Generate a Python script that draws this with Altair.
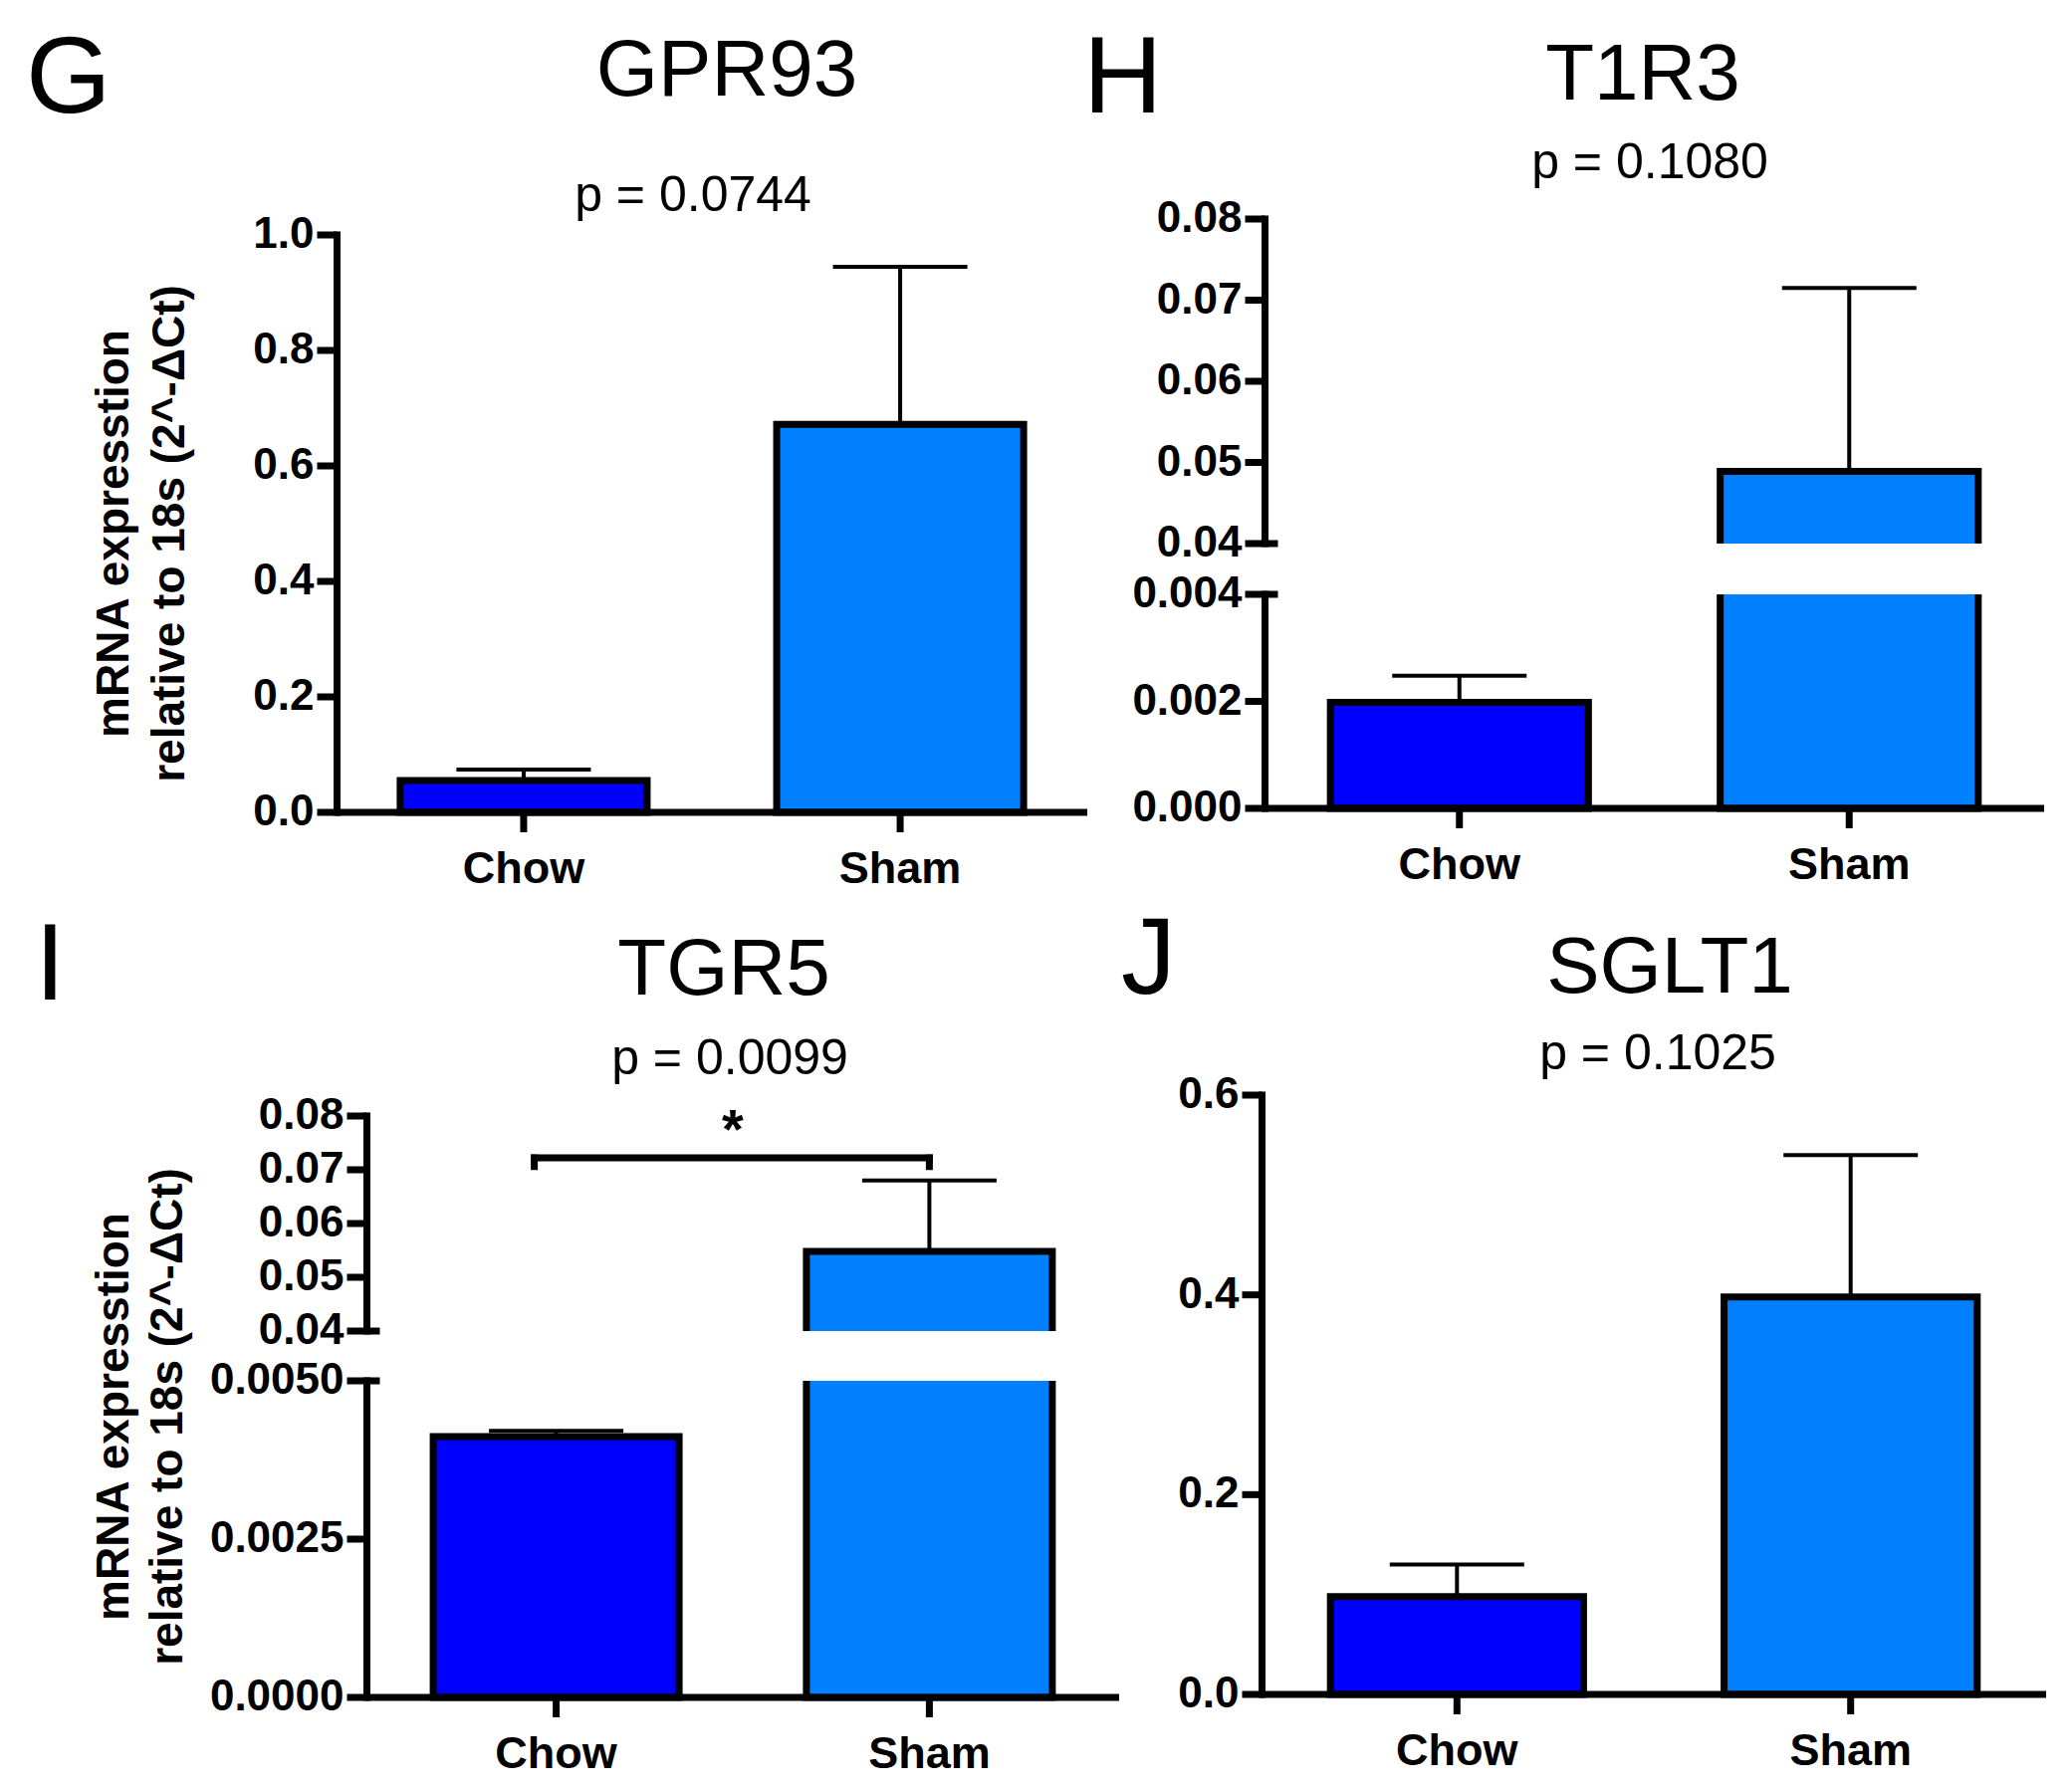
import altair as alt
import pandas as pd

# ---------------- data ----------------
groups = ["Chow", "Sham"]
genes = ["GPR93", "T1R3", "TGR5", "SGLT1"]
panel_letters = ["G", "H", "I", "J"]
p_values = ["p = 0.0744", "p = 0.1080", "p = 0.0099", "p = 0.1025"]

gpr93_mean = [0.055, 0.672]
gpr93_upper = [0.074, 0.945]
t1r3_mean = [0.00198, 0.0489]
t1r3_upper = [0.00248, 0.0715]
tgr5_mean = [0.00412, 0.0548]
tgr5_upper = [0.00421, 0.0680]
sglt1_mean = [0.098, 0.398]
sglt1_upper = [0.130, 0.540]

gpr93_ticks = [0.0, 0.2, 0.4, 0.6, 0.8, 1.0]
t1r3_ticks = [0.0, 0.002, 0.004, 0.04, 0.05, 0.06, 0.07, 0.08]
tgr5_ticks = [0.0, 0.0025, 0.005, 0.04, 0.05, 0.06, 0.07, 0.08]
sglt1_ticks = [0.0, 0.2, 0.4, 0.6]

t1r3_break = [0.004, 0.04]
tgr5_break = [0.005, 0.04]
tgr5_bracket = [0.0706, 0.0722]
significance = "*"

y_title = ["mRNA expresstion", "relative to 18s (2^-ΔCt)"]

# ---------------- style / layout ----------------
bar_colors = ["#0000FF", "#0080FF"]
SANS = "Liberation Sans, Arial, sans-serif"
M = 8
CELL_W, CELL_H = 1032, 891
AXW = 7        # axis line width
TICK = 20      # tick length
BRACKET_SHIFT = -22


def panel(row, col, gene, letter, pval, mean, upper, ticks, brk, ypix, axis_x, right_x,
          pi, po, label_expr, title_xy, letter_xy, p_xy, ytitle_x=None, bracket=None):
    ox = M + col * CELL_W
    oy = M + row * CELL_H

    def lx(v):
        return v - ox

    def ly(v):
        return v - oy

    df = pd.DataFrame({"group": groups, "mean": mean, "upper": upper})
    df["zero"] = ticks[0]
    if brk is None:
        domain = [ticks[0], ticks[-1]]
        seg_df = pd.DataFrame({"lo": [ticks[0]], "hi": [ticks[-1]]})
    else:
        domain = [ticks[0], brk[0], brk[1], ticks[-1]]
        seg_df = pd.DataFrame({"lo": [ticks[0], brk[1]], "hi": [brk[0], ticks[-1]]})
    yscale = alt.Scale(domain=domain, range=[ly(p) for p in ypix], nice=False, zero=False)
    xscale = alt.Scale(domain=groups, range=[lx(axis_x), lx(right_x)],
                       paddingInner=pi, paddingOuter=po)
    axis_y = ypix[0]
    ax = lx(axis_x) + 0.5

    X = alt.X("group:N", axis=None)
    base = alt.Chart(df)
    bars = base.mark_bar(stroke="black", strokeWidth=7).encode(
        x=alt.X("group:N", scale=xscale, axis=None, sort=groups),
        y=alt.Y("mean:Q", scale=yscale, axis=None),
        y2="zero:Q",
        color=alt.Color("group:N", scale=alt.Scale(domain=groups, range=bar_colors), legend=None),
    )
    layers = [bars]
    if brk is not None:
        W = right_x - axis_x
        step = W / (2 - pi + 2 * po)
        bw = step * (1 - pi)
        gap_df = df[df["mean"] > brk[1]].assign(lo=brk[0], hi=brk[1])
        gap = alt.Chart(gap_df).mark_bar(color="white", width=bw + 12).encode(
            x=X, y=alt.Y("lo:Q", axis=None), y2="hi:Q",
        )
        stubs = alt.Chart(pd.DataFrame({"v": brk})).mark_rule(color="black", strokeWidth=AXW).encode(
            x=alt.value(ax), x2=alt.value(ax + 13), y=alt.Y("v:Q", axis=None),
        )
        layers += [gap, stubs]

    # y axis: line segments, ticks, labels
    segs = alt.Chart(seg_df).mark_rule(color="black", strokeWidth=AXW, strokeCap="square").encode(
        x=alt.value(ax), y=alt.Y("lo:Q", axis=None), y2="hi:Q",
    )
    tick_df = pd.DataFrame({"v": ticks})
    yticks = alt.Chart(tick_df).mark_rule(color="black", strokeWidth=AXW).encode(
        x=alt.value(ax - TICK), x2=alt.value(ax), y=alt.Y("v:Q", axis=None),
    )
    ylabels = alt.Chart(tick_df).transform_calculate(lbl=label_expr).mark_text(
        font=SANS, fontSize=44, fontWeight="bold", align="right", baseline="middle",
        color="black",
    ).encode(x=alt.value(ax - TICK - 3), y=alt.Y("v:Q", axis=None), text="lbl:N")
    # x axis: line, ticks, labels
    xline = alt.Chart(pd.DataFrame({"v": [ticks[0]]})).mark_rule(color="black", strokeWidth=AXW).encode(
        x=alt.value(lx(axis_x)), x2=alt.value(lx(right_x)), y=alt.Y("v:Q", axis=None),
    )
    xticks = base.mark_tick(color="black", opacity=1, orient="vertical", size=TICK,
                            thickness=AXW, yOffset=TICK / 2).encode(
        x=X, y=alt.Y("zero:Q", axis=None))
    xlabels = base.mark_text(
        font=SANS, fontSize=45, fontWeight="bold", align="center", baseline="alphabetic",
        color="black",
    ).encode(x=X, y=alt.value(ly(axis_y) + 71), text="group:N")
    layers += [segs, yticks, ylabels, xline, xticks, xlabels]

    err = base.mark_rule(color="black", strokeWidth=4).encode(
        x=X, y=alt.Y("mean:Q", axis=None), y2="upper:Q",
    )
    caps = base.mark_tick(color="black", opacity=1, orient="horizontal", size=135,
                          thickness=4).encode(x=X, y=alt.Y("upper:Q", axis=None))
    layers += [err, caps]
    if bracket is not None:
        top_df = pd.DataFrame({"a": [groups[0]], "b": [groups[1]], "v": [bracket[1]]})
        br_top = alt.Chart(top_df).mark_rule(
            color="black", strokeWidth=7, strokeCap="square", xOffset=BRACKET_SHIFT
        ).encode(x=alt.X("a:N", axis=None), x2="b:N", y=alt.Y("v:Q", axis=None))
        leg_df = pd.DataFrame({"group": groups, "lo": [bracket[0]] * 2, "hi": [bracket[1]] * 2})
        br_l = alt.Chart(leg_df.iloc[[0]]).mark_rule(
            color="black", strokeWidth=7, strokeCap="square", xOffset=BRACKET_SHIFT
        ).encode(x=X, y=alt.Y("lo:Q", axis=None), y2="hi:Q")
        br_r = alt.Chart(leg_df.iloc[[1]]).mark_rule(
            color="black", strokeWidth=7, strokeCap="square"
        ).encode(x=X, y=alt.Y("lo:Q", axis=None), y2="hi:Q")
        star = alt.Chart(pd.DataFrame({"t": [significance]})).mark_text(
            font=SANS, fontSize=56, fontWeight="bold", align="center", baseline="alphabetic",
            color="black",
        ).encode(text="t:N", x=alt.value(lx(736)), y=alt.value(ly(1153)))
        layers += [br_top, br_l, br_r, star]

    def txt(t, xy, size, weight="normal", align="center", angle=0, baseline="alphabetic"):
        return alt.Chart(pd.DataFrame({"t": [t]})).mark_text(
            font=SANS, fontSize=size, fontWeight=weight, align=align, baseline=baseline,
            angle=angle, color="black",
        ).encode(text="t:N", x=alt.value(lx(xy[0])), y=alt.value(ly(xy[1])))

    layers.append(txt(gene, title_xy, 80))
    layers.append(txt(letter, letter_xy, 110, align="left"))
    layers.append(txt(pval, p_xy, 50))
    if ytitle_x is not None:
        mid = (ypix[0] + ypix[-1]) / 2 + 10
        for line, tx in zip(y_title, ytitle_x):
            layers.append(txt(line, (tx, mid), 46, weight="bold", angle=270, baseline="middle"))
    return alt.layer(*layers).properties(width=CELL_W, height=CELL_H)


fmt1 = "format(datum.v, '.1f')"
pG = panel(0, 0, genes[0], panel_letters[0], p_values[0], gpr93_mean, gpr93_upper, gpr93_ticks,
           None, [816, 236], 338, 1092, 0.344, 0.169, fmt1,
           (730, 96), (26, 113), (696, 212), ytitle_x=(115, 171))
pH = panel(0, 1, genes[1], panel_letters[1], p_values[1], t1r3_mean, t1r3_upper, t1r3_ticks,
           t1r3_break, [812, 597, 546, 220], 1270, 2053, 0.338, 0.169,
           "datum.v >= 0.03 ? format(datum.v, '.2f') : format(datum.v, '.3f')",
           (1650, 100), (1088, 113), (1657, 179))
pI = panel(1, 0, genes[2], panel_letters[2], p_values[2], tgr5_mean, tgr5_upper, tgr5_ticks,
           tgr5_break, [1705, 1387, 1337, 1121], 368, 1124, 0.341, 0.179,
           "datum.v >= 0.03 ? format(datum.v, '.2f') : format(datum.v, '.4f')",
           (727, 999), (35, 1004), (733, 1079), ytitle_x=(115, 169), bracket=tgr5_bracket)
pJ = panel(1, 1, genes[3], panel_letters[3], p_values[3], sglt1_mean, sglt1_upper, sglt1_ticks,
           None, [1702, 1100], 1267, 2055, 0.357, 0.175, fmt1,
           (1677, 997), (1126, 998), (1665, 1074))

chart = alt.concat(pG, pH, pI, pJ, columns=2, spacing=0, bounds="flush").properties(
    padding=0
).configure_view(stroke=None)

chart.save("out.html", embed_options={"renderer": "svg", "actions": False})
